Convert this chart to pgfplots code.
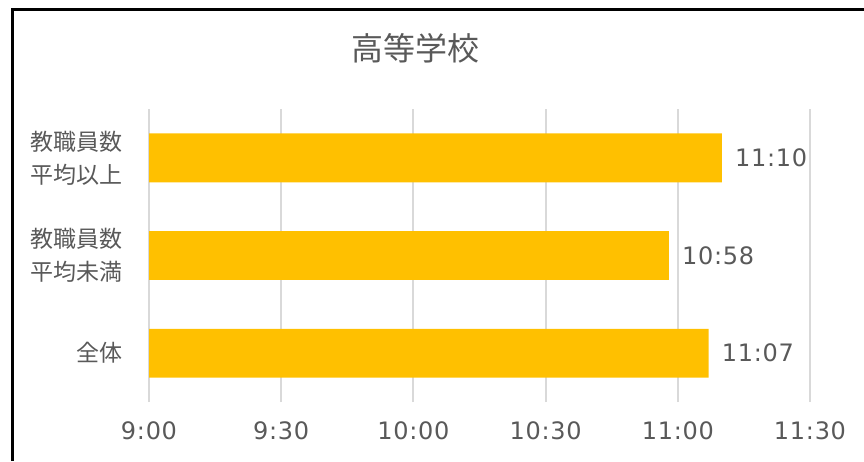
\documentclass[border=0pt]{standalone}
\usepackage{fontspec}
\setmainfont{DejaVu Sans}[LetterSpace=3]
\newfontfamily\cjk{Noto Sans CJK JP}
\usepackage{pgfplots}
\pgfplotsset{compat=1.18}
\definecolor{barc}{HTML}{FFC000}
\definecolor{txt}{HTML}{595959}
\definecolor{gridc}{HTML}{D9D9D9}

\begin{document}
\begin{tikzpicture}
\path[use as bounding box] (0pt,0pt) rectangle (864pt,461pt);
\draw[line width=3pt] (12pt,0pt) -- (12pt,451pt) -- (864pt,451pt);
\node[text=txt, font=\cjk\fontsize{32}{38}\selectfont] at (415pt,413pt) {高等学校};
% minutes after 9:00
\begin{axis}[
  at={(149pt,59pt)}, anchor=south west,
  width=661pt, height=293pt, scale only axis,
  xbar, bar width=0.5,
  xmin=0, xmax=150, ymin=-0.5, ymax=2.5,
  xtick={0,30,...,150},
  xticklabels={9:00,9:30,10:00,10:30,11:00,11:30},
  ytick={0,1,2},
  yticklabels={全体, 教職員数\\平均未満, 教職員数\\平均以上},
  yticklabel style={align=right, font=\cjk\fontsize{23}{33}\selectfont, text=txt, inner sep=0pt, xshift=-26pt},
  xticklabel style={font=\fontsize{24}{28}\selectfont, text=txt, inner sep=0pt, yshift=-19pt},
  axis line style={draw=none},
  major tick length=0pt,
  xmajorgrids, major grid style={gridc, line width=2pt},
  nodes near coords, point meta=explicit symbolic,
  nodes near coords style={font=\fontsize{24}{28}\selectfont, text=txt, anchor=west, inner sep=0pt, xshift=13pt},
]
\addplot[fill=barc, draw=none] coordinates {
  (130,2) [11:10]
  (118,1) [10:58]
  (127,0) [11:07]
};
\end{axis}
\end{tikzpicture}
\end{document}
